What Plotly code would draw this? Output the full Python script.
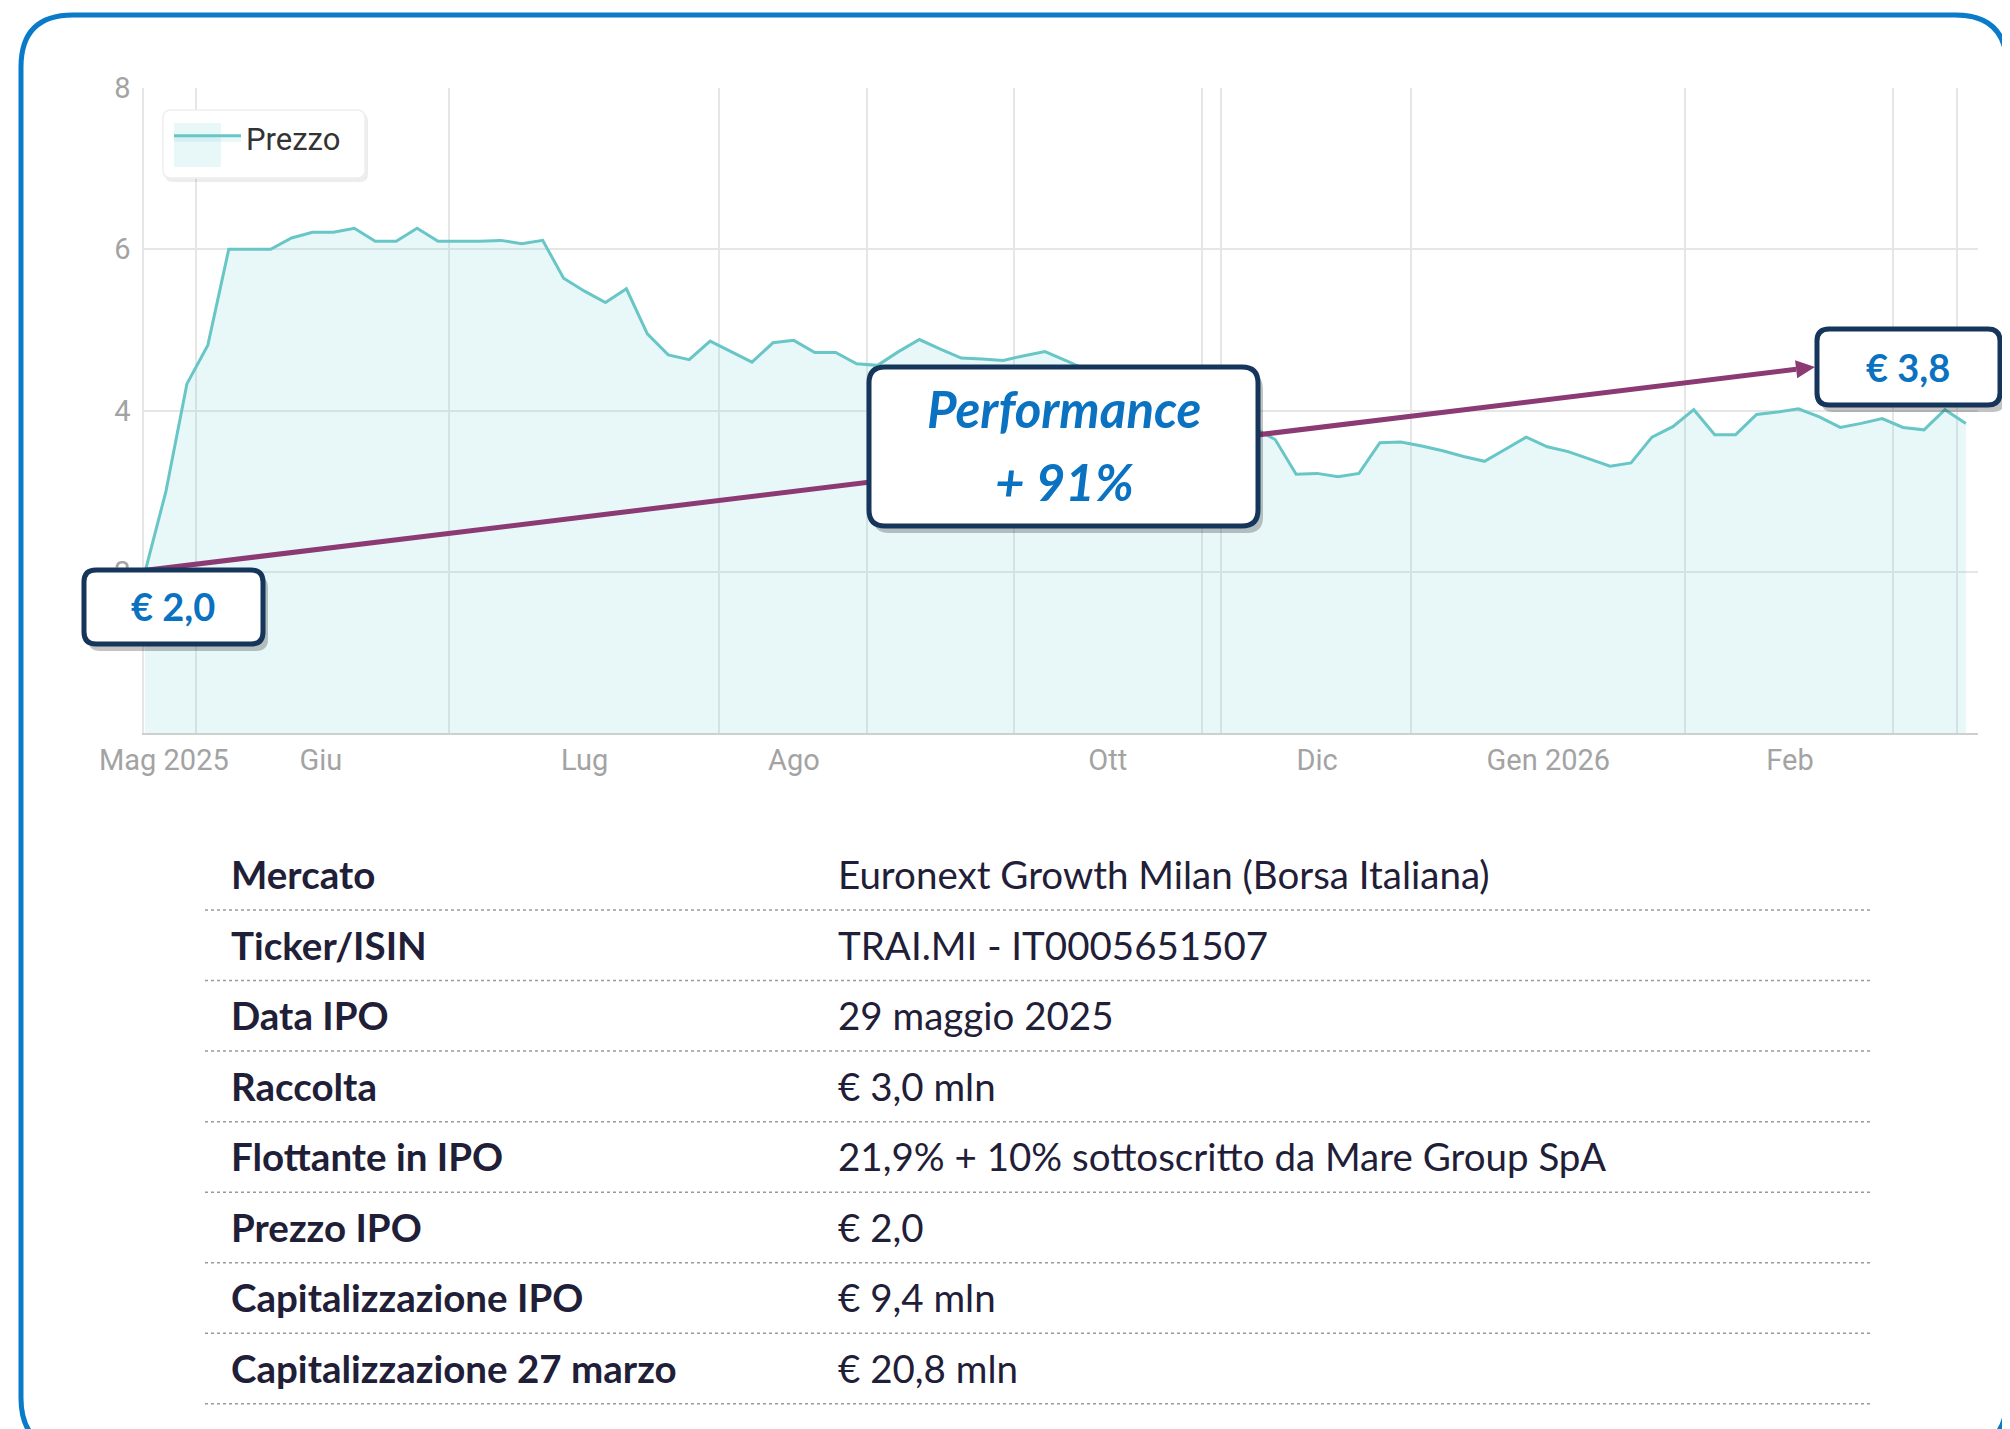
"""TRAI.MI — andamento del prezzo dopo l'IPO, con box di performance e scheda sintetica."""

import plotly.graph_objects as go

# ── dati ────────────────────────────────────────────────────
PRICES = [
    2.00, 3.00, 4.33, 4.81, 6.00, 6.00, 6.00, 6.14, 6.21, 6.21,
    6.26, 6.10, 6.10, 6.26, 6.10, 6.10, 6.10, 6.11, 6.07, 6.11,
    5.64, 5.48, 5.34, 5.51, 4.95, 4.69, 4.63, 4.86, 4.73, 4.60,
    4.84, 4.87, 4.72, 4.72, 4.58, 4.56, 4.73, 4.88, 4.76, 4.65,
    4.64, 4.62, 4.68, 4.73, 4.62, 4.50, 4.42, 4.35, 4.25, 4.15,
    4.05, 3.98, 3.90, 3.78, 3.64, 3.21, 3.22, 3.18, 3.22, 3.60,
    3.61, 3.56, 3.50, 3.43, 3.37, 3.52, 3.67, 3.55, 3.49, 3.40,
    3.31, 3.35, 3.67, 3.80, 4.01, 3.70, 3.70, 3.95, 3.98, 4.02,
    3.92, 3.79, 3.84, 3.90, 3.79, 3.76, 4.01, 3.84,
]
SESSIONS = list(range(len(PRICES)))

TICK_POS = [0.9, 8.4, 21.0, 31.0, 46.0, 56.0, 67.05, 78.6]
TICK_LABELS = ["Mag 2025", "Giu", "Lug", "Ago", "Ott", "Dic", "Gen 2026", "Feb"]
GRID_POS = [2.45, 14.5, 27.4, 34.5, 41.5, 50.5, 51.4, 60.5, 73.6, 83.5, 86.6]
Y_TICKS = [2, 4, 6, 8]

PRICE_IPO = "€ 2,0"
PRICE_LAST = "€ 3,8"
PERFORMANCE = "+ 91%"

TABLE_LABELS = [
    "Mercato", "Ticker/ISIN", "Data IPO", "Raccolta", "Flottante in IPO",
    "Prezzo IPO", "Capitalizzazione IPO", "Capitalizzazione 27 marzo",
]
TABLE_VALUES = [
    "Euronext Growth Milan (Borsa Italiana)", "TRAI.MI - IT0005651507",
    "29 maggio 2025", "€ 3,0 mln", "21,9% + 10% sottoscritto da Mare Group SpA",
    "€ 2,0", "€ 9,4 mln", "€ 20,8 mln",
]

# ── stile / geometria (pixel della pagina) ──────────────────
OFF = 8                      # margine del body html
FIG_W, FIG_H = 2010 - OFF, 1429 - OFF
L, R, T, B = 144, 1978, 88, 733
BLUE = "#0a72c0"
NAVY = "#15355a"
PURPLE = "#8b3a73"
TEAL = "#68c6c6"
FILL = "rgba(110,205,210,0.16)"
GRID = "#e6e6e6"
INK = "#1f2038"
AXIS_FONT = dict(family="Roboto, sans-serif", size=29, color="#a3a3a3")
TXT = "Lato, 'Noto Sans', sans-serif"


def px(x):
    return (x - L) / (R - L)


def py(y):
    return (B - y) / (B - T)


def rrect(x0, y0, x1, y1, r):
    """Rettangolo arrotondato come path SVG in coordinate paper."""
    p = lambda x, y: f"{px(x):.5f},{py(y):.5f}"
    return (f"M{p(x0 + r, y0)} L{p(x1 - r, y0)} Q{p(x1, y0)} {p(x1, y0 + r)} "
            f"L{p(x1, y1 - r)} Q{p(x1, y1)} {p(x1 - r, y1)} L{p(x0 + r, y1)} "
            f"Q{p(x0, y1)} {p(x0, y1 - r)} L{p(x0, y0 + r)} Q{p(x0, y0)} {p(x0 + r, y0)} Z")


def box(x0, y0, x1, y1, r=12, line=NAVY, width=5, shadow="rgba(40,40,40,0.28)", sh=(4, 6)):
    out = []
    if shadow:
        out.append(dict(type="path", xref="paper", yref="paper", layer="above",
                        path=rrect(x0 + sh[0], y0 + sh[1], x1 + sh[0] + 1, y1 + sh[1] + 1, r),
                        fillcolor=shadow, line=dict(width=0)))
    out.append(dict(type="path", xref="paper", yref="paper", layer="above",
                    path=rrect(x0, y0, x1, y1, r), fillcolor="white",
                    line=dict(color=line, width=width)))
    return out


def label(text, x, y, size, **font):
    return dict(text=text, x=px(x), y=py(y), xref="paper", yref="paper",
                showarrow=False, xanchor="center", yanchor="middle",
                font=dict(family=TXT, size=size, color=BLUE, weight="bold", **font))


fig = go.Figure()
fig.add_trace(go.Scatter(
    x=SESSIONS, y=PRICES, mode="lines", name="Prezzo",
    line=dict(color=TEAL, width=3),
    fill="tozeroy", fillcolor=FILL,
))

shapes = []
# cornice esterna
shapes.append(dict(type="path", xref="paper", yref="paper", layer="above",
                   path=rrect(21, 15, 2007, 1450, 52),
                   line=dict(color="#0a7bc9", width=5)))
# legenda (sfondo + riquadro del simbolo)
shapes += box(163, 110, 365, 178, r=8, line="#eeeeee", width=1.5,
              shadow="rgba(0,0,0,0.07)", sh=(2, 3))
shapes.append(dict(type="rect", xref="paper", yref="paper", layer="above",
                   x0=px(174), x1=px(221), y0=py(123), y1=py(167),
                   fillcolor=FILL, line=dict(width=0)))

# freccia di performance
tail, tip = (140, 571), (1815, 367)
dx, dy = tip[0] - tail[0], tip[1] - tail[1]
n = (dx * dx + dy * dy) ** 0.5
ux, uy = dx / n, dy / n
bx, by = tip[0] - 19 * ux, tip[1] - 19 * uy
shapes.append(dict(type="line", xref="paper", yref="paper", layer="above",
                   x0=px(tail[0]), y0=py(tail[1]), x1=px(bx), y1=py(by),
                   line=dict(color=PURPLE, width=5)))
shapes.append(dict(type="path", xref="paper", yref="paper", layer="above",
                   path=(f"M{px(tip[0])},{py(tip[1])} "
                         f"L{px(bx - 9 * uy)},{py(by + 9 * ux)} "
                         f"L{px(bx + 9 * uy)},{py(by - 9 * ux)} Z"),
                   fillcolor=PURPLE, line=dict(width=0)))

shapes += box(84, 570, 263, 644)
shapes += box(1817, 329, 2000, 405)
shapes += box(869, 367, 1258, 526, r=16)

annotations = [
    label(PRICE_IPO, 173, 606, 38),
    label(PRICE_LAST, 1908, 367, 38),
    label("Performance", 1064, 409, 51, style="italic"),
    label(PERFORMANCE, 1064, 481, 51, style="italic"),
]

# ── scheda IPO ──────────────────────────────────────────────
ROW0, ROW_H = 874, 70.55
for i, (lab, val) in enumerate(zip(TABLE_LABELS, TABLE_VALUES)):
    yc = ROW0 + i * ROW_H
    annotations.append(dict(text=lab, x=px(229), y=py(yc), xref="paper", yref="paper",
                            showarrow=False, xanchor="left", yanchor="middle",
                            font=dict(family=TXT, size=38.5, color=INK, weight="bold")))
    annotations.append(dict(text=val, x=px(836), y=py(yc), xref="paper", yref="paper",
                            showarrow=False, xanchor="left", yanchor="middle",
                            font=dict(family=TXT, size=38.5, color=INK)))
    shapes.append(dict(type="line", xref="paper", yref="paper", layer="above",
                       x0=px(205), x1=px(1872), y0=py(yc + 36), y1=py(yc + 36),
                       line=dict(color="#9a9a9a", width=1.5, dash="dot")))

fig.update_layout(
    width=FIG_W, height=FIG_H,
    margin=dict(l=L - OFF, r=FIG_W - (R - OFF), t=T - OFF, b=FIG_H - (B - OFF), pad=0),
    paper_bgcolor="white", plot_bgcolor="white",
    showlegend=True,
    legend=dict(x=px(169), y=py(111), xanchor="left", yanchor="top",
                bgcolor="rgba(0,0,0,0)", borderwidth=0, itemwidth=67,
                font=dict(family="Roboto, sans-serif", size=31, color="#333333")),
    xaxis=dict(range=[-0.05, 87.58], showgrid=False, zeroline=False,
               tickmode="array", tickvals=TICK_POS, ticktext=TICK_LABELS,
               tickfont=AXIS_FONT, ticks="", ticklabelstandoff=0,
               showline=True, linecolor="#cfcfcf", linewidth=2,
               minor=dict(tickmode="array", tickvals=GRID_POS, showgrid=True,
                          gridcolor=GRID, gridwidth=1.5, ticks="")),
    yaxis=dict(range=[0, 8], tickmode="array", tickvals=Y_TICKS,
               showgrid=True, gridcolor=GRID, gridwidth=1.5, zeroline=False,
               showline=True, linecolor=GRID, linewidth=1.5,
               tickfont=AXIS_FONT, ticks="", ticklabelstandoff=6),
    shapes=shapes,
    annotations=annotations,
)

fig.write_html("out.html")
